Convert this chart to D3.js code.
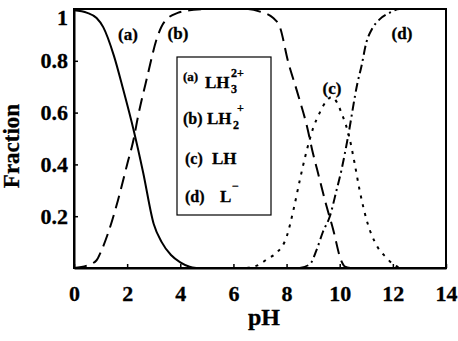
<!DOCTYPE html>
<html>
<head>
<meta charset="utf-8">
<script src="https://cdn.jsdelivr.net/npm/d3@7"></script>
<style>
body { margin: 0; background: #fff; }
svg text { font-family: "Liberation Serif", "DejaVu Serif", serif; font-weight: bold; fill: #000; stroke: #000; stroke-width: 0.3px; }
</style>
</head>
<body>
<svg id="chart" width="458" height="341"></svg>
<script>
// values: [pH, fraction]
var seriesA = [[0,0.995],[0.5,0.985],[0.85,0.965],[1.1,0.93],[1.5,0.82],[1.85,0.69],[2.25,0.53],[2.6,0.37],[3.0,0.17],[3.3,0.10],[3.65,0.05],[4.0,0.022],[4.35,0.005],[4.6,0]];
var seriesB = [[0,0],[0.5,0.01],[0.85,0.03],[1.0,0.06],[1.3,0.14],[1.65,0.26],[2.0,0.4],[2.25,0.5],[2.4,0.58],[2.76,0.74],[3.13,0.89],[3.4,0.95],[3.9,0.985],[4.5,0.997],[5,1],[6.5,1],[7.0,0.99],[7.5,0.965],[7.75,0.93],[8.05,0.8],[8.4,0.68],[8.76,0.55],[9.0,0.44],[9.15,0.38],[9.5,0.24],[9.75,0.15],[10.05,0.03],[10.2,0.005],[10.4,0]];
var seriesC = [[6.5,0],[7.0,0.015],[7.27,0.035],[7.64,0.06],[8.0,0.12],[8.25,0.22],[8.5,0.34],[8.75,0.45],[9.0,0.54],[9.25,0.6],[9.5,0.645],[9.7,0.66],[10.1,0.59],[10.35,0.51],[10.55,0.41],[10.75,0.3],[11.0,0.19],[11.4,0.085],[11.76,0.04],[12.0,0.015],[12.3,0]];
var seriesD = [[8.5,0],[8.88,0.015],[9.13,0.07],[9.37,0.14],[9.63,0.2],[9.88,0.3],[10.07,0.38],[10.3,0.5],[10.67,0.715],[10.82,0.78],[11.0,0.87],[11.2,0.92],[11.5,0.96],[11.87,0.985],[12.25,1.0],[14,1.0]];

var xTicks = [0,2,4,6,8,10,12,14];
var yTicks = [0.2,0.4,0.6,0.8,1];
var curveLabels = ["(a)","(b)","(c)","(d)"];

var svg = d3.select("#chart");

var x = d3.scaleLinear().domain([0,14]).range([74,446]);
var y = d3.scaleLinear().domain([0,1]).range([268,9]);

// frame
svg.append("rect")
	.attr("x", x(0)).attr("y", y(1))
	.attr("width", x(14)-x(0)).attr("height", y(0)-y(1))
	.attr("fill","none").attr("stroke","#000").attr("stroke-width",2);

var xAxis = svg.append("g")
	.attr("transform","translate(0,"+y(0)+")")
	.call(d3.axisBottom(x).tickValues(xTicks).tickSizeInner(-4).tickSizeOuter(0).tickPadding(17).tickFormat(d3.format("d")));
xAxis.selectAll("text").attr("font-size","22px");

var yAxis = svg.append("g")
	.attr("transform","translate("+x(0)+",0)")
	.call(d3.axisLeft(y).tickValues(yTicks).tickSizeInner(-4).tickSizeOuter(0).tickPadding(6).tickFormat(d3.format("")));
yAxis.selectAll("text").attr("font-size","22px")
	.attr("dy", function(d){ return d == 1 ? "0.7em" : "0.32em"; });

svg.selectAll(".domain").attr("stroke-width",2);
svg.selectAll(".tick line").attr("stroke-width",1.5);

// axis titles
svg.append("text")
	.attr("x", 264).attr("y", 325)
	.attr("text-anchor","middle").attr("font-size","24px")
	.text("pH");
svg.append("text")
	.attr("transform","translate(19,146)rotate(-90)")
	.attr("text-anchor","middle").attr("font-size","23px")
	.text("Fraction");

var line = d3.line()
	.x(function(d){ return x(d[0]); })
	.y(function(d){ return y(d[1]); })
	.curve(d3.curveMonotoneX);

var series = [
	{data: seriesA, dash: null},
	{data: seriesB, dash: "13,7"},
	{data: seriesC, dash: "3,6"},
	{data: seriesD, dash: "9,4,2,4"}
];
series.forEach(function(s){
	svg.append("path")
		.attr("d", line(s.data))
		.attr("fill","none")
		.attr("stroke","#000")
		.attr("stroke-width",2)
		.attr("stroke-dasharray", s.dash);
});

// curve labels
var labelPos = [[128,40],[178,39],[332,94],[402,39]];
curveLabels.forEach(function(t,i){
	svg.append("text")
		.attr("x", labelPos[i][0]).attr("y", labelPos[i][1])
		.attr("text-anchor","middle").attr("font-size","17px")
		.text(t);
});

// legend box
svg.append("rect")
	.attr("x",177).attr("y",57).attr("width",94).attr("height",158)
	.attr("fill","#fff").attr("stroke","#000").attr("stroke-width",1.2);

function txt(s, px, py, size){
	svg.append("text").attr("x",px).attr("y",py).attr("font-size",size+"px").text(s);
}
txt("(a)",183,81,13);
txt("LH",205,88,17);
txt("3",231,93,12);
txt("2+",231,77,12);

txt("(b)",183,124,16);
txt("LH",207,124,17);
txt("2",233,129,12);
txt("+",237,112,12);

txt("(c)",185,164,16);
txt("LH",212,164,17);

txt("(d)",185,202,16);
txt("L",220,202,17);
txt("\u2212",232,190,12);
</script>
</body>
</html>
